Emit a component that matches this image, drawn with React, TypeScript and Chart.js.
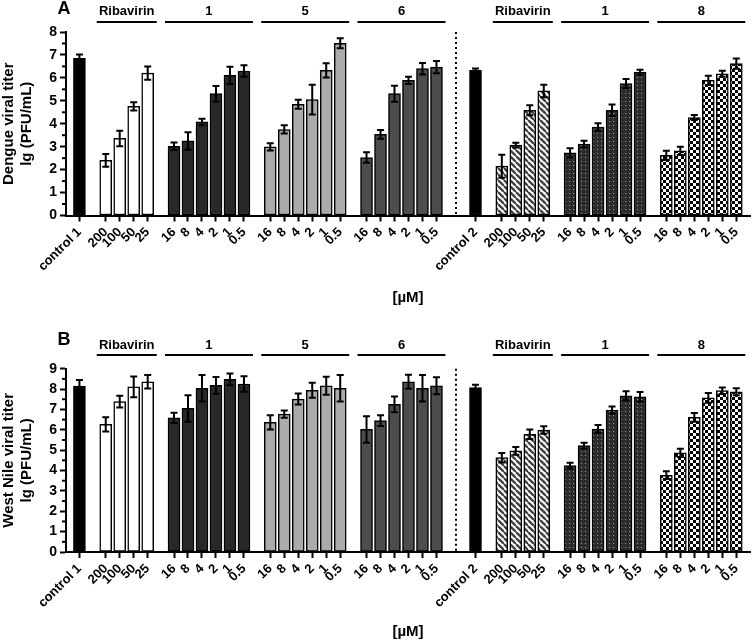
import React, { useEffect, useRef } from 'react';
import { Chart, registerables } from 'chart.js';

Chart.register(...registerables);

const FONT = '"Liberation Sans", Arial, Helvetica, sans-serif';

// ---------- categories / tick labels ----------
const controlLabels1 = ['control 1'];
const controlLabels2 = ['control 2'];
const ribavirinDoses = ['200', '100', '50', '25'];
const compoundDoses = ['16', '8', '4', '2', '1', '0.5'];
const groupTitles = ['', 'Ribavirin', '1', '5', '6', '', 'Ribavirin', '1', '8'];
const xAxisTitle = '[µM]';

// ---------- Panel A : Dengue ----------
const denControl1 = [6.85];
const denControl1Err = [0.17];
const denRibavirin1 = [2.4, 3.36, 4.76, 6.21];
const denRibavirin1Err = [0.28, 0.34, 0.18, 0.29];
const denCmpd1 = [3.02, 3.25, 4.08, 5.31, 6.11, 6.3];
const denCmpd1Err = [0.16, 0.38, 0.14, 0.34, 0.38, 0.25];
const denCmpd5 = [2.99, 3.75, 4.85, 5.05, 6.33, 7.51];
const denCmpd5Err = [0.16, 0.18, 0.2, 0.65, 0.31, 0.22];
const denCmpd6 = [2.53, 3.54, 5.31, 5.89, 6.4, 6.47];
const denCmpd6Err = [0.23, 0.19, 0.35, 0.16, 0.25, 0.27];
const denControl2 = [6.33];
const denControl2Err = [0.08];
const denRibavirin2 = [2.15, 3.07, 4.59, 5.43];
const denRibavirin2Err = [0.5, 0.1, 0.22, 0.27];
const denCmpd1b = [2.73, 3.11, 3.86, 4.59, 5.75, 6.25];
const denCmpd1bErr = [0.2, 0.15, 0.16, 0.25, 0.2, 0.1];
const denCmpd8 = [2.62, 2.82, 4.27, 5.89, 6.18, 6.62];
const denCmpd8Err = [0.2, 0.18, 0.11, 0.2, 0.13, 0.22];

// ---------- Panel B : West Nile ----------
const wnControl1 = [8.15];
const wnControl1Err = [0.29];
const wnRibavirin1 = [6.27, 7.38, 8.11, 8.36];
const wnRibavirin1Err = [0.35, 0.29, 0.51, 0.33];
const wnCmpd1 = [6.59, 7.05, 8.04, 8.18, 8.48, 8.25];
const wnCmpd1Err = [0.25, 0.65, 0.65, 0.41, 0.29, 0.38];
const wnCmpd5 = [6.37, 6.77, 7.51, 7.94, 8.16, 8.04];
const wnCmpd5Err = [0.35, 0.18, 0.27, 0.37, 0.44, 0.65];
const wnCmpd6 = [6.02, 6.45, 7.25, 8.36, 8.04, 8.16];
const wnCmpd6Err = [0.65, 0.26, 0.39, 0.34, 0.65, 0.42];
const wnControl2 = [8.07];
const wnControl2Err = [0.14];
const wnRibavirin2 = [4.63, 4.97, 5.78, 5.99];
const wnRibavirin2Err = [0.23, 0.19, 0.23, 0.18];
const wnCmpd1b = [4.24, 5.22, 6.04, 6.97, 7.67, 7.62];
const wnCmpd1bErr = [0.14, 0.14, 0.19, 0.18, 0.22, 0.24];
const wnCmpd8 = [3.77, 4.87, 6.61, 7.57, 7.92, 7.87];
const wnCmpd8Err = [0.19, 0.2, 0.22, 0.24, 0.16, 0.17];

// ---------- styling per group ----------
type Fill = 'black' | 'white' | 'dark' | 'light' | 'mid' | 'stripes' | 'dots' | 'checker';
const groupFills: Fill[] = ['black', 'white', 'dark', 'light', 'mid', 'black', 'stripes', 'dots', 'checker'];
// spacing (in bar slots) preceding each group
const groupLeadGap = [0, 1.88, 1.88, 1.88, 1.88, 2.79, 1.88, 1.88, 1.88];
const separatorAfterGroup = 4;

interface Group { labels: string[]; values: number[]; errs: number[] }

function buildLayout(groups: Group[]) {
  const xs: number[] = [];
  const ys: number[] = [];
  const es: number[] = [];
  const labels: string[] = [];
  const fillIdx: number[] = [];
  const spans: [number, number][] = [];
  let last = 0;
  groups.forEach((g, gi) => {
    const start = gi === 0 ? 0 : last + groupLeadGap[gi];
    g.values.forEach((v, i) => {
      xs.push(start + i);
      ys.push(v);
      es.push(g.errs[i]);
      labels.push(g.labels[i]);
      fillIdx.push(gi);
    });
    spans.push([start, start + g.values.length - 1]);
    last = start + g.values.length - 1;
  });
  return { xs, ys, es, labels, fillIdx, spans };
}

function makePattern(kind: Fill): CanvasPattern | string {
  const solid: Record<string, string> = { black: '#000000', white: '#ffffff', dark: '#282828', light: '#ababab', mid: '#4d4d4d' };
  if (solid[kind]) return solid[kind];
  const c = document.createElement('canvas');
  const ctx = c.getContext('2d')!;
  if (kind === 'stripes') {
    c.width = 6; c.height = 6;
    ctx.fillStyle = '#ffffff';
    ctx.fillRect(0, 0, 6, 6);
    ctx.strokeStyle = '#444444';
    ctx.lineWidth = 2.4;
    for (const k of [-6, 0, 6]) {
      ctx.beginPath();
      ctx.moveTo(k, 0);
      ctx.lineTo(k + 6, 6);
      ctx.stroke();
    }
  } else if (kind === 'dots') {
    c.width = 4; c.height = 4;
    ctx.fillStyle = '#2c2c2c';
    ctx.fillRect(0, 0, 4, 4);
    ctx.fillStyle = '#9a9a9a';
    ctx.fillRect(1, 1, 1, 1);
  } else {
    c.width = 6; c.height = 6;
    ctx.fillStyle = '#000000';
    ctx.fillRect(0, 0, 6, 6);
    ctx.fillStyle = '#ffffff';
    ctx.fillRect(0, 0, 3, 3);
    ctx.fillRect(3, 3, 3, 3);
  }
  return ctx.createPattern(c, 'repeat')!;
}

interface PanelCfg {
  letter: string;
  yTitle: string[];
  ymax: number;
  height: number;
  top: number;
  bottom: number;
  xTitlePad: number;
  letterY: number;
  groupTextY: number;
  groupLineY: number;
  groups: Group[];
}

function makeGroups(c1: number[], c1e: number[], r1: number[], r1e: number[], a: number[], ae: number[], b: number[], be: number[], c: number[], ce: number[], c2: number[], c2e: number[], r2: number[], r2e: number[], d: number[], de: number[], f: number[], fe: number[]): Group[] {
  return [
    { labels: controlLabels1, values: c1, errs: c1e },
    { labels: ribavirinDoses, values: r1, errs: r1e },
    { labels: compoundDoses, values: a, errs: ae },
    { labels: compoundDoses, values: b, errs: be },
    { labels: compoundDoses, values: c, errs: ce },
    { labels: controlLabels2, values: c2, errs: c2e },
    { labels: ribavirinDoses, values: r2, errs: r2e },
    { labels: compoundDoses, values: d, errs: de },
    { labels: compoundDoses, values: f, errs: fe },
  ];
}

const panelA: PanelCfg = {
  letter: 'A',
  yTitle: ['Dengue viral titer', 'lg (PFU/mL)'],
  ymax: 8,
  height: 322,
  top: 32,
  bottom: 215.5,
  xTitlePad: 15,
  letterY: 9,
  groupTextY: 11,
  groupLineY: 22,
  groups: makeGroups(denControl1, denControl1Err, denRibavirin1, denRibavirin1Err, denCmpd1, denCmpd1Err, denCmpd5, denCmpd5Err, denCmpd6, denCmpd6Err, denControl2, denControl2Err, denRibavirin2, denRibavirin2Err, denCmpd1b, denCmpd1bErr, denCmpd8, denCmpd8Err),
};

const panelB: PanelCfg = {
  letter: 'B',
  yTitle: ['West Nile viral titer', 'lg (PFU/mL)'],
  ymax: 9,
  height: 321,
  top: 46.7,
  bottom: 230,
  xTitlePad: 2,
  letterY: 18,
  groupTextY: 23,
  groupLineY: 33,
  groups: makeGroups(wnControl1, wnControl1Err, wnRibavirin1, wnRibavirin1Err, wnCmpd1, wnCmpd1Err, wnCmpd5, wnCmpd5Err, wnCmpd6, wnCmpd6Err, wnControl2, wnControl2Err, wnRibavirin2, wnRibavirin2Err, wnCmpd1b, wnCmpd1bErr, wnCmpd8, wnCmpd8Err),
};

function createPanel(canvas: HTMLCanvasElement, cfg: PanelCfg) {
  const L = buildLayout(cfg.groups);
  const fills = groupFills.map(makePattern);
  const bg = L.fillIdx.map((gi) => fills[gi]);

  const annot = {
    id: 'annot' + cfg.letter,
    afterDatasetsDraw(chart: any) {
      const { ctx } = chart;
      const xS = chart.scales.x;
      const yS = chart.scales.y;
      ctx.save();
      ctx.strokeStyle = '#000';
      ctx.lineWidth = 2;
      L.xs.forEach((xv, i) => {
        const x = xS.getPixelForValue(xv);
        const yt = yS.getPixelForValue(L.ys[i] + L.es[i]);
        const yb = yS.getPixelForValue(L.ys[i] - L.es[i]);
        ctx.beginPath();
        ctx.moveTo(x, yt); ctx.lineTo(x, yb);
        ctx.moveTo(x - 3.5, yt); ctx.lineTo(x + 3.5, yt);
        ctx.moveTo(x - 3.5, yb); ctx.lineTo(x + 3.5, yb);
        ctx.stroke();
      });
      ctx.restore();
    },
    afterDraw(chart: any) {
      const { ctx, chartArea } = chart;
      const xS = chart.scales.x;
      const yS = chart.scales.y;
      ctx.save();
      // minor y ticks
      ctx.strokeStyle = '#000';
      ctx.lineWidth = 2;
      for (let v = 0.5; v < cfg.ymax; v += 1) {
        const y = yS.getPixelForValue(v);
        ctx.beginPath();
        ctx.moveTo(chartArea.left - 4, y);
        ctx.lineTo(chartArea.left, y);
        ctx.stroke();
      }
      // group titles + lines
      ctx.fillStyle = '#000';
      ctx.textAlign = 'center';
      ctx.textBaseline = 'middle';
      ctx.font = `bold 13px ${FONT}`;
      L.spans.forEach(([a, b], gi) => {
        const t = groupTitles[gi];
        if (!t) return;
        const x1 = xS.getPixelForValue(a) - 9;
        const x2 = xS.getPixelForValue(b) + 9;
        ctx.fillText(t, (x1 + x2) / 2, cfg.groupTextY);
        ctx.beginPath();
        ctx.moveTo(x1, cfg.groupLineY);
        ctx.lineTo(x2, cfg.groupLineY);
        ctx.stroke();
      });
      // panel letter
      ctx.font = `bold 18px ${FONT}`;
      ctx.fillText(cfg.letter, 64, cfg.letterY);
      // dotted separator
      const sA = L.spans[separatorAfterGroup][1];
      const sB = L.spans[separatorAfterGroup + 1][0];
      const xs = xS.getPixelForValue((sA + sB) / 2);
      ctx.setLineDash([2, 3]);
      ctx.beginPath();
      ctx.moveTo(xs, chartArea.top);
      ctx.lineTo(xs, chartArea.bottom);
      ctx.stroke();
      ctx.restore();
    },
  };

  return new Chart(canvas, {
    type: 'bar',
    data: {
      datasets: [
        {
          data: L.xs.map((x, i) => ({ x, y: L.ys[i] })),
          backgroundColor: bg as any,
          borderColor: '#000',
          borderWidth: 1.5,
          borderSkipped: false,
          barThickness: 12,
        } as any,
      ],
    },
    options: {
      animation: false,
      responsive: false,
      maintainAspectRatio: false,
      events: [],
      layout: { padding: { top: cfg.top, right: 4, left: 0, bottom: 0 } },
      plugins: { legend: { display: false }, tooltip: { enabled: false }, title: { display: false } },
      scales: {
        x: {
          type: 'linear',
          offset: false,
          bounds: 'data',
          min: -0.96,
          max: 47.93,
          afterBuildTicks: (s: any) => {
            s.ticks = L.xs.map((v) => ({ value: v }));
          },
          afterFit: (s: any) => {
            s.height = cfg.height - cfg.bottom;
          },
          grid: { offset: false, drawOnChartArea: false, drawTicks: true, tickLength: 6, tickWidth: 2, tickColor: '#000' },
          border: { display: true, color: '#000', width: 2 },
          ticks: {
            autoSkip: false,
            minRotation: 45,
            maxRotation: 45,
            padding: 3,
            color: '#000',
            font: { family: FONT, size: 13, weight: 'bold' },
            callback: (_v: any, i: number) => L.labels[i],
          },
          title: {
            display: true,
            text: xAxisTitle,
            color: '#000',
            font: { family: FONT, size: 15, weight: 'bold' },
            padding: { top: 0, bottom: cfg.xTitlePad },
          },
        } as any,
        y: {
          min: 0,
          max: cfg.ymax,
          afterFit: (s: any) => {
            s.width = 66;
          },
          grid: { drawOnChartArea: false, drawTicks: true, tickLength: 6, tickWidth: 2, tickColor: '#000' },
          border: { display: true, color: '#000', width: 2 },
          ticks: {
            stepSize: 1,
            padding: 3,
            color: '#000',
            font: { family: FONT, size: 14, weight: 'bold' },
          },
          title: {
            display: true,
            text: cfg.yTitle,
            color: '#000',
            font: { family: FONT, size: 15, weight: 'bold', lineHeight: 1.2 },
            padding: { top: 0, bottom: 0 },
          },
        } as any,
      },
    },
    plugins: [annot],
  });
}

export default function App() {
  const refA = useRef<HTMLCanvasElement>(null);
  const refB = useRef<HTMLCanvasElement>(null);

  useEffect(() => {
    const a = createPanel(refA.current!, panelA);
    const b = createPanel(refB.current!, panelB);
    return () => {
      a.destroy();
      b.destroy();
    };
  }, []);

  return (
    <div style={{ position: 'absolute', left: 0, top: 0, width: 754, height: 643, background: '#fff' }}>
      <canvas ref={refA} width={754} height={322} style={{ position: 'absolute', left: 0, top: 0, width: 754, height: 322 }} />
      <canvas ref={refB} width={754} height={321} style={{ position: 'absolute', left: 0, top: 322, width: 754, height: 321 }} />
    </div>
  );
}
